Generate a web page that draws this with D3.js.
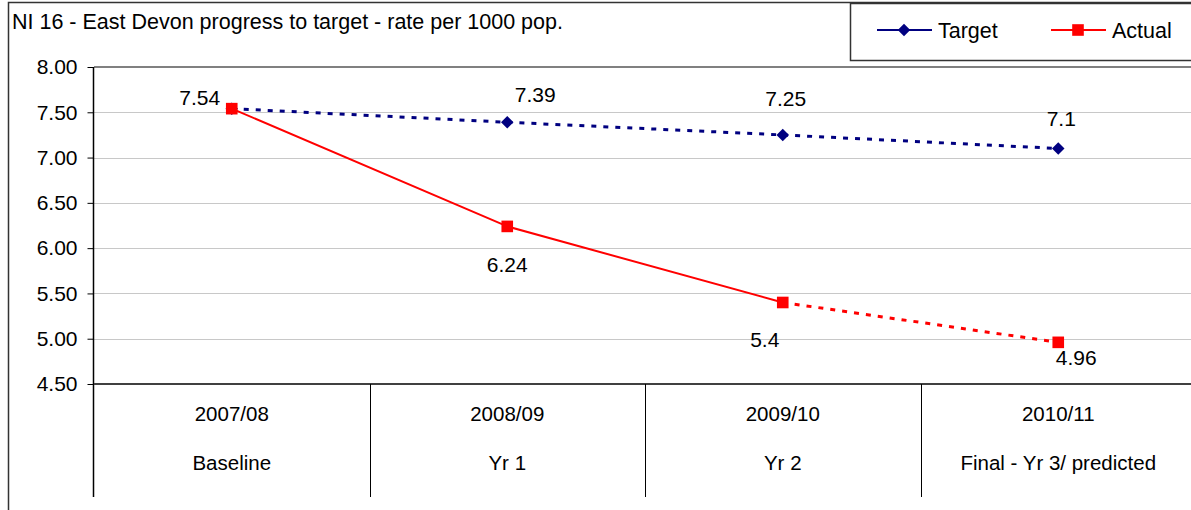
<!DOCTYPE html>
<html>
<head>
<meta charset="utf-8">
<script src="https://cdn.jsdelivr.net/npm/d3@7"></script>
<style>
  body { margin: 0; background: #fff; }
  text { font-family: "Liberation Sans", Arial, sans-serif; fill: #000; }
</style>
</head>
<body>
<div id="chart"></div>
<script>
// chart data
var years = ["2007/08", "2008/09", "2009/10", "2010/11"];
var stages = ["Baseline", "Yr 1", "Yr 2", "Final - Yr 3/ predicted"];
var target = [7.54, 7.39, 7.25, 7.1];
var actual = [7.54, 6.24, 5.4, 4.96];
var targetLabels = ["", "7.39", "7.25", "7.1"];
var actualLabels = ["7.54", "6.24", "5.4", "4.96"];
var yTicks = [4.5, 5.0, 5.5, 6.0, 6.5, 7.0, 7.5, 8.0];

var width = 1191, height = 510;
var plotLeft = 94, plotRight = 1196, plotTop = 67, plotBottom = 384;

var svg = d3.select("#chart").append("svg")
    .attr("width", width)
    .attr("height", height);

// outer chart frame
svg.append("rect")
    .attr("x", 8.5).attr("y", 2.5)
    .attr("width", 1300).attr("height", 600)
    .attr("fill", "none")
    .attr("stroke", "#333").attr("stroke-width", 1.5);

svg.append("text")
    .attr("x", 12).attr("y", 29)
    .style("font-size", "21.5px")
    .text("NI 16 - East Devon progress to target - rate per 1000 pop.");

var x = d3.scaleBand().domain(years).range([plotLeft, plotRight]);
var y = d3.scaleLinear().domain([4.5, 8]).range([plotBottom, plotTop]);
var cx = function (i) { return x(years[i]) + x.bandwidth() / 2; };

// gridlines
svg.append("g").selectAll("line")
    .data(yTicks.filter(function (d) { return d > 4.5 && d < 8; }))
    .enter().append("line")
    .attr("x1", plotLeft).attr("x2", width)
    .attr("y1", function (d) { return Math.round(y(d)) + 0.5; })
    .attr("y2", function (d) { return Math.round(y(d)) + 0.5; })
    .attr("stroke", "#c8c8c8").attr("stroke-width", 1);

// plot top border
svg.append("line")
    .attr("x1", plotLeft).attr("x2", width)
    .attr("y1", y(8)).attr("y2", y(8))
    .attr("stroke", "#808080").attr("stroke-width", 2);

// y axis
var yAxis = svg.append("g")
    .attr("transform", "translate(" + (plotLeft - 0.5) + ",0)")
    .call(d3.axisLeft(y).tickValues(yTicks).tickFormat(d3.format(".2f")).tickSize(6).tickPadding(10));
yAxis.select(".domain").remove();
yAxis.selectAll(".tick line").attr("stroke", "#000");
yAxis.selectAll("text")
    .attr("font-family", null).attr("fill", null)
    .style("font-size", "21px");
yAxis.attr("font-family", null).attr("font-size", null);
svg.append("line")
    .attr("x1", plotLeft - 0.5).attr("x2", plotLeft - 0.5)
    .attr("y1", plotTop).attr("y2", 497)
    .attr("stroke", "#000").attr("stroke-width", 1.5);

// x axis line
svg.append("line")
    .attr("x1", plotLeft).attr("x2", width)
    .attr("y1", plotBottom).attr("y2", plotBottom)
    .attr("stroke", "#404040").attr("stroke-width", 2);

// category dividers
svg.append("g").selectAll("line")
    .data(years.slice(1))
    .enter().append("line")
    .attr("x1", function (d) { return Math.round(x(d)) + 0.5; })
    .attr("x2", function (d) { return Math.round(x(d)) + 0.5; })
    .attr("y1", plotBottom).attr("y2", 497)
    .attr("stroke", "#000").attr("stroke-width", 1);

// category labels
var cat = svg.append("g").selectAll("g")
    .data(years).enter().append("g");
cat.append("text")
    .attr("x", function (d, i) { return cx(i); })
    .attr("y", 421)
    .attr("text-anchor", "middle")
    .style("font-size", "20.5px")
    .text(function (d) { return d; });
cat.append("text")
    .attr("x", function (d, i) { return cx(i); })
    .attr("y", 470)
    .attr("text-anchor", "middle")
    .style("font-size", "20.5px")
    .text(function (d, i) { return stages[i]; });

var line = d3.line()
    .x(function (d, i) { return cx(i); })
    .y(function (d) { return y(d); });

// target line (dotted)
svg.append("path")
    .datum(target)
    .attr("d", line)
    .attr("fill", "none")
    .attr("stroke", "#000080").attr("stroke-width", 3)
    .attr("stroke-dasharray", "5,7");

// actual line: solid for first three, dotted for predicted
var segLine = d3.line()
    .x(function (d) { return cx(d.i); })
    .y(function (d) { return y(d.v); });
var actualPts = actual.map(function (v, i) { return { v: v, i: i }; });
svg.append("path")
    .datum(actualPts.slice(0, 3))
    .attr("d", segLine)
    .attr("fill", "none")
    .attr("stroke", "#ff0000").attr("stroke-width", 2);
svg.append("path")
    .datum(actualPts.slice(2))
    .attr("d", segLine)
    .attr("fill", "none")
    .attr("stroke", "#ff0000").attr("stroke-width", 3)
    .attr("stroke-dasharray", "5,7");

// markers
var diamond = d3.symbol().type(d3.symbolDiamond2).size(100);
var square = d3.symbol().type(d3.symbolSquare).size(135);
svg.append("g").selectAll("path")
    .data(target).enter().append("path")
    .attr("d", diamond)
    .attr("transform", function (d, i) { return "translate(" + cx(i) + "," + y(d) + ")"; })
    .attr("fill", "#000080");
svg.append("g").selectAll("path")
    .data(actual).enter().append("path")
    .attr("d", square)
    .attr("transform", function (d, i) { return "translate(" + cx(i) + "," + y(d) + ")"; })
    .attr("fill", "#ff0000");

// data labels (offsets from each point)
var tOff = [[0, 0], [28, -20], [3, -29], [3, -23]];
var aOff = [[-32, -4], [0, 46], [-18, 45], [18, 23]];
svg.append("g").selectAll("text")
    .data(target).enter().append("text")
    .attr("x", function (d, i) { return cx(i) + tOff[i][0]; })
    .attr("y", function (d, i) { return y(d) + tOff[i][1]; })
    .attr("text-anchor", "middle")
    .style("font-size", "21px")
    .text(function (d, i) { return targetLabels[i]; });
svg.append("g").selectAll("text")
    .data(actual).enter().append("text")
    .attr("x", function (d, i) { return cx(i) + aOff[i][0]; })
    .attr("y", function (d, i) { return y(d) + aOff[i][1]; })
    .attr("text-anchor", "middle")
    .style("font-size", "21px")
    .text(function (d, i) { return actualLabels[i]; });

// legend
svg.append("rect")
    .attr("x", 850.5).attr("y", 3.5)
    .attr("width", 400).attr("height", 57)
    .attr("fill", "#fff")
    .attr("stroke", "#333").attr("stroke-width", 1.5);
var legendItems = [
    { name: "Target", color: "#000080", sym: diamond, x: 877 },
    { name: "Actual", color: "#ff0000", sym: square, x: 1051 }
];
var lg = svg.append("g").selectAll("g")
    .data(legendItems).enter().append("g")
    .attr("transform", function (d) { return "translate(" + d.x + ",30)"; });
lg.append("line")
    .attr("x1", 0).attr("x2", 55)
    .attr("stroke", function (d) { return d.color; }).attr("stroke-width", 2);
lg.append("path")
    .attr("d", function (d) { return d.sym(); })
    .attr("transform", "translate(27,0)")
    .attr("fill", function (d) { return d.color; });
lg.append("text")
    .attr("x", 61).attr("y", 8)
    .style("font-size", "21.5px")
    .text(function (d) { return d.name; });
</script>
</body>
</html>
